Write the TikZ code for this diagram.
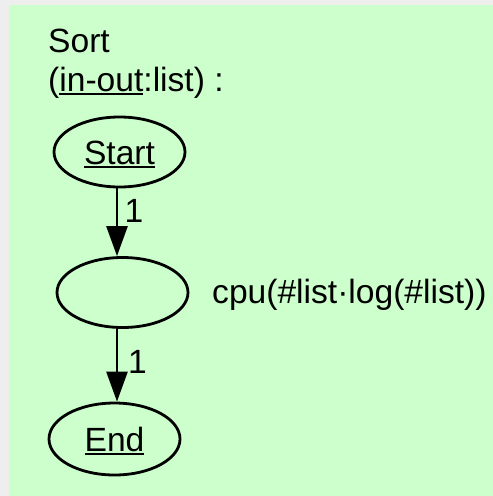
\documentclass[tikz,border=0pt]{standalone}
\usepackage{fontspec}
\setmainfont{Liberation Sans}
\usetikzlibrary{arrows.meta,shapes.geometric}
\definecolor{panel}{HTML}{CCFFCC}
\definecolor{frame}{HTML}{EEEEEE}
% underline drawn as a thick rule under the word
\newcommand\ulword[1]{\setbox0\hbox{#1}\rlap{\rule[-4pt]{\wd0}{2.5pt}}\box0}
\begin{document}
\begin{tikzpicture}[x=1pt,y=1pt,
  every node/.style={font=\fontsize{33.6}{38}\selectfont, inner sep=0pt},
  state/.style={draw, ellipse, line width=2.8pt, minimum width=131pt, minimum height=70pt,
                text height=24pt, text depth=0pt},
  flow/.style={line width=2.8pt, -{Triangle[length=30pt,width=21pt]}},
  mult/.style={anchor=base}]
  \useasboundingbox (0,0) rectangle (493,-496);
  \fill[frame] (0,0) rectangle (493,-496);
  \fill[panel] (9,-5) rectangle (493,-496);

  \node[anchor=base west] (title) at (48,-52) {Sort};
  \node[anchor=base west] (param) at (48,-91) {(\ulword{in-out}:list) :};

  \node[state] (start) at (119.5,-152) {\ulword{Start}};
  \node[state] (work) at (122.5,-292.5) {};
  \node[state, minimum height=72pt] (stop) at (114.5,-439) {\ulword{End}};
  \node[anchor=base west] (cost) at (212,-303) {cpu(\#list·log(\#list))};

  \coordinate (axis) at (117,0);
  \draw[flow] (start.south -| axis) -- (work.north -| axis);
  \draw[flow] (work.south -| axis) -- (stop.north -| axis);
  \node[mult] (m1) at (134,-222) {1};
  \node[mult] (m2) at (137.5,-373) {1};
\end{tikzpicture}
\end{document}
